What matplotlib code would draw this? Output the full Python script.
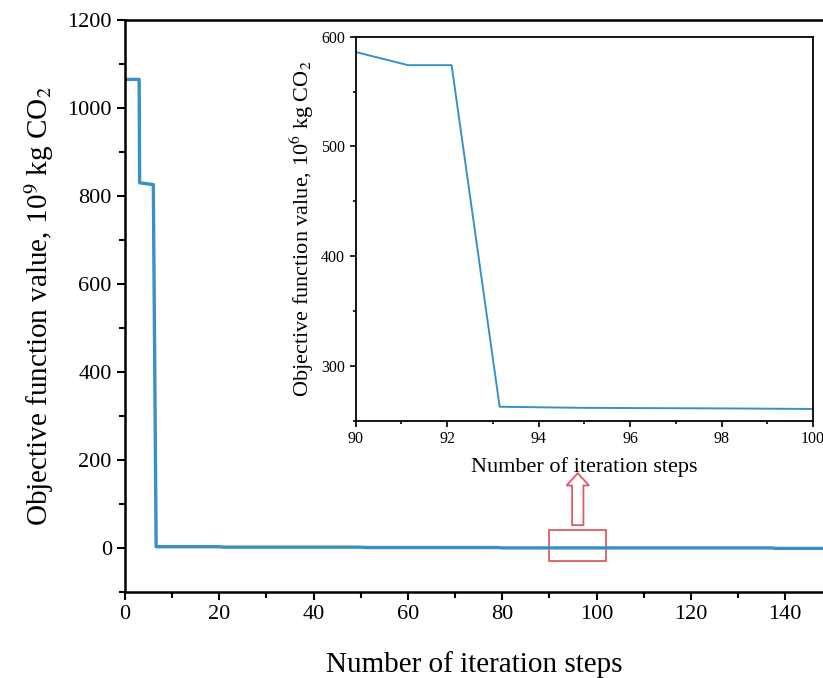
import matplotlib.pyplot as plt
from matplotlib.patches import Rectangle, FancyArrow
from matplotlib.ticker import MultipleLocator

plt.rcParams['font.family'] = ['Liberation Serif', 'DejaVu Serif']
plt.rcParams['mathtext.fontset'] = 'stix'

# main curve, objective value in 1e9 kg CO2
steps = [0, 3, 3.1, 5.9, 6.0, 6.6, 20, 21, 50, 51, 79, 80, 137, 138, 148]
values = [1065, 1065, 830, 826, 826, 3, 3, 2, 2, 1.2, 1.2, 0.3, 0.3, -0.8, -0.8]

# zoomed part, 1e6 kg CO2
steps_zoom = [90, 91.15, 92.1, 93.15, 95, 98, 100]
values_zoom = [586, 574, 574, 263, 262, 261.5, 261]

line_col = '#3b8fc7'
red = '#e05a62'

fig = plt.figure(figsize=(8.23, 6.78), dpi=100)
ax = fig.add_axes([0.1519, 0.1268, 0.8481, 0.8437])
ax.plot(steps, values, color=line_col, lw=2.4)
ax.set_xlim(0, 148)
ax.set_ylim(-100, 1200)
ax.xaxis.set_major_locator(MultipleLocator(20))
ax.xaxis.set_minor_locator(MultipleLocator(10))
ax.yaxis.set_major_locator(MultipleLocator(200))
ax.yaxis.set_minor_locator(MultipleLocator(100))
ax.tick_params(which='major', direction='out', length=6, width=1.5, labelsize=16)
ax.tick_params(which='minor', direction='out', length=4, width=1.5)
for s in ax.spines.values():
    s.set_linewidth(1.8)
ax.spines['right'].set_visible(False)
ax.set_xlabel('Number of iteration steps', fontsize=21, labelpad=19)
ax.set_ylabel('Objective function value, 10$^9$ kg CO$_2$', fontsize=21, labelpad=8)

# red box and hollow arrow
ax.add_patch(Rectangle((90, -30), 12, 70, fill=False, edgecolor=red, lw=1.3))
ax.add_patch(FancyArrow(96, 52, 0, 118, width=2.4, head_width=4.8, head_length=28,
                        length_includes_head=True, facecolor='white', edgecolor=red, lw=1.3))

# inset
ins = fig.add_axes([0.432, 0.379, 0.5559, 0.567])
ins.plot(steps_zoom, values_zoom, color=line_col, lw=1.4)
ins.set_xlim(90, 100)
ins.set_ylim(250, 600)
ins.xaxis.set_major_locator(MultipleLocator(2))
ins.xaxis.set_minor_locator(MultipleLocator(1))
ins.yaxis.set_major_locator(MultipleLocator(100))
ins.yaxis.set_minor_locator(MultipleLocator(50))
ins.tick_params(which='major', direction='out', length=4, width=1.2, labelsize=11.5)
ins.tick_params(which='minor', direction='out', length=2.5, width=1.2)
for s in ins.spines.values():
    s.set_linewidth(1.3)
ins.set_xlabel('Number of iteration steps', fontsize=16, labelpad=7)
ins.set_ylabel('Objective function value, 10$^6$ kg CO$_2$', fontsize=16, labelpad=4)

plt.savefig('out.png', dpi=100)
